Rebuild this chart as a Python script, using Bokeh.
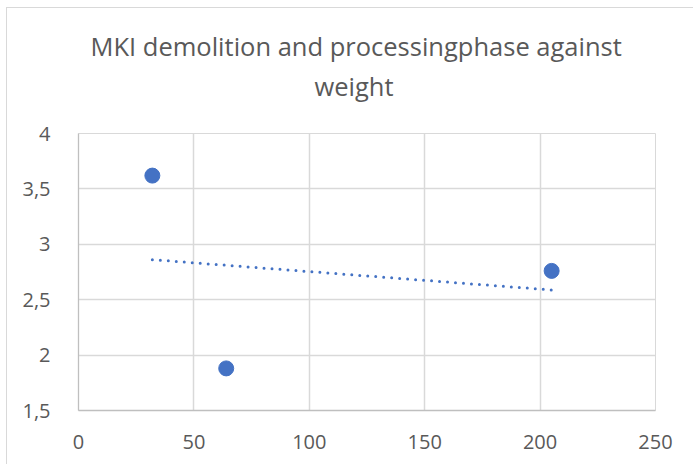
import numpy as np
from bokeh.plotting import figure
from bokeh.models import Range1d, FixedTicker, Title
from bokeh.embed import file_html
from bokeh.resources import INLINE

# Data
weight = [32, 64, 205]
phase_value = [3.62, 1.88, 2.76]
x_ticks = [0, 50, 100, 150, 200, 250]
x_tick_labels = ["0", "50", "100", "150", "200", "250"]
y_ticks = [1.5, 2, 2.5, 3, 3.5, 4]
y_tick_labels = ["1,5", "2", "2,5", "3", "3,5", "4"]
title_lines = ["MKI demolition and processingphase against", "weight"]

FONT = "Open Sans"
TXT = "#595959"
BLUE = "#4472C4"

p = figure(width=687, height=457, output_backend="svg", toolbar_location=None,
           x_range=Range1d(0, 250), y_range=Range1d(1.5, 4),
           min_border_left=71, min_border_right=39, min_border_top=125, min_border_bottom=55)
p.styles = {"margin-left": "6px", "margin-top": "7px",
            "border-left": "1px solid #D9D9D9", "border-top": "1px solid #D9D9D9"}
p.background_fill_color = "white"
p.border_fill_color = "white"
p.outline_line_color = "#D9D9D9"

for ax, ticks, labels in ((p.xaxis[0], x_ticks, x_tick_labels), (p.yaxis[0], y_ticks, y_tick_labels)):
    ax.ticker = FixedTicker(ticks=ticks)
    ax.major_label_overrides = {t: l for t, l in zip(ticks, labels)}
    ax.major_tick_line_color = None
    ax.minor_tick_line_color = None
    ax.axis_line_color = "#BFBFBF"
    ax.axis_line_width = 1.3
    ax.major_label_text_font = FONT
    ax.major_label_text_font_size = "20px"
    ax.major_label_text_color = TXT
p.xaxis.major_label_standoff = 18
p.yaxis.major_label_standoff = 22

p.xgrid.ticker = FixedTicker(ticks=x_ticks)
p.ygrid.ticker = FixedTicker(ticks=y_ticks)
p.grid.grid_line_color = "#D9D9D9"
p.grid.grid_line_width = 1.5

# Linear trendline (least squares) over data range
slope, intercept = np.polyfit(weight, phase_value, 1)
tx = [min(weight), max(weight)]
ty = [slope * v + intercept for v in tx]
p.line(tx, ty, line_color=BLUE, line_width=3, line_dash="0 8", line_cap="round")

p.scatter(weight, phase_value, size=15, fill_color=BLUE, line_color=BLUE)

# Two-line title (nearest-to-frame line added first)
p.add_layout(Title(text=title_lines[1], align="left", offset=236, standoff=62,
                   text_font=FONT, text_font_size="25.5px", text_font_style="normal",
                   text_color=TXT), "above")
p.add_layout(Title(text=title_lines[0], align="left", offset=12, standoff=-54,
                   text_font=FONT, text_font_size="25.5px", text_font_style="normal",
                   text_color=TXT), "above")

open("out.html", "w").write(file_html(p, INLINE))
